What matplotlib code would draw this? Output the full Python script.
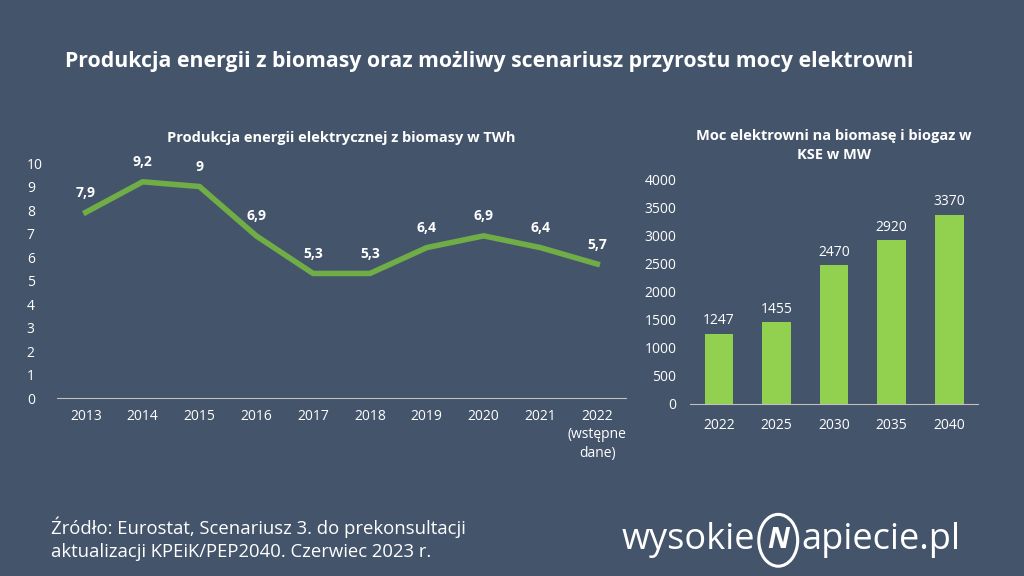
import matplotlib.pyplot as plt
from matplotlib.patches import Ellipse

bg = '#44546a'
line_green = '#70ad47'
bar_green = '#92d050'
plt.rcParams['font.family'] = ['Open Sans', 'DejaVu Sans']

# left chart data
years = ['2013', '2014', '2015', '2016', '2017', '2018', '2019', '2020', '2021', '2022\n(wstępne\ndane)']
production = [7.9, 9.2, 9.0, 6.9, 5.3, 5.3, 6.4, 6.9, 6.4, 5.7]
prod_labels = ['7,9', '9,2', '9', '6,9', '5,3', '5,3', '6,4', '6,9', '6,4', '5,7']

# right chart data
cap_years = ['2022', '2025', '2030', '2035', '2040']
capacity = [1247, 1455, 2470, 2920, 3370]

fig = plt.figure(figsize=(10.24, 5.76), dpi=100, facecolor=bg)

fig.text(0.478, 0.893, 'Produkcja energii z biomasy oraz możliwy scenariusz przyrostu mocy elektrowni',
         ha='center', va='center', color='white', fontsize=15.3, fontweight='bold')

# line chart
ax1 = fig.add_axes([0.056, 0.309, 0.555, 0.408])
ax1.set_facecolor(bg)
x = range(len(years))
ax1.plot(x, production, color=line_green, lw=4, solid_joinstyle='round')
for i, (v, lab) in enumerate(zip(production, prod_labels)):
    ax1.annotate(lab, (i, v), xytext=(0, 9), textcoords='offset points',
                 ha='center', va='bottom', color='white', fontsize=10, fontweight='bold')
ax1.set_xlim(-0.5, 9.5)
ax1.set_ylim(0, 10)
ax1.set_yticks(range(0, 11))
ax1.set_xticks(list(x))
ax1.set_xticklabels(years, linespacing=1.3)
ax1.tick_params(colors='white', labelsize=10, length=0, pad=8)
ax1.tick_params(axis='y', pad=22)
for yl in ax1.get_yticklabels():
    yl.set_ha('left')
for s in ['top', 'right', 'left']:
    ax1.spines[s].set_visible(False)
ax1.spines['bottom'].set_color('#bfbfbf')
ax1.set_title('Produkcja energii elektrycznej z biomasy w TWh', color='white',
              fontsize=10.5, fontweight='bold', pad=15)

# bar chart
ax2 = fig.add_axes([0.674, 0.299, 0.281, 0.389])
ax2.set_facecolor(bg)
bx = range(len(cap_years))
ax2.bar(bx, capacity, width=0.5, color=bar_green)
for i, v in enumerate(capacity):
    ax2.annotate(str(v), (i, v), xytext=(0, 4), textcoords='offset points',
                 ha='center', va='bottom', color='white', fontsize=10)
ax2.set_xlim(-0.5, 4.5)
ax2.set_ylim(0, 4000)
ax2.set_yticks(range(0, 4001, 500))
ax2.set_xticks(list(bx))
ax2.set_xticklabels(cap_years)
ax2.tick_params(colors='white', labelsize=10, length=0, pad=10)
for s in ['top', 'right', 'left']:
    ax2.spines[s].set_visible(False)
ax2.spines['bottom'].set_color('#bfbfbf')
ax2.set_title('Moc elektrowni na biomasę i biogaz w\nKSE w MW', color='white',
              fontsize=10.5, fontweight='bold', pad=15, linespacing=1.45)

# source
fig.text(0.05, 0.065, 'Źródło: Eurostat, Scenariusz 3. do prekonsultacji\naktualizacji KPEiK/PEP2040. Czerwiec 2023 r.',
         ha='left', va='center', color='white', fontsize=13.3, linespacing=1.4)

# logo
fig.text(0.737, 0.062, 'wysokie', ha='right', va='center', color='white', fontsize=26)
fig.text(0.783, 0.062, 'apiecie.pl', ha='left', va='center', color='white', fontsize=26)
fig.patches.append(Ellipse((0.760, 0.062), 0.038, 0.09, transform=fig.transFigure,
                           fill=False, ec='white', lw=2.2))
fig.text(0.760, 0.062, 'N', ha='center', va='center', color='white', fontsize=21,
         fontweight='bold', style='italic')

fig.savefig('out.png', dpi=100, facecolor=bg)
